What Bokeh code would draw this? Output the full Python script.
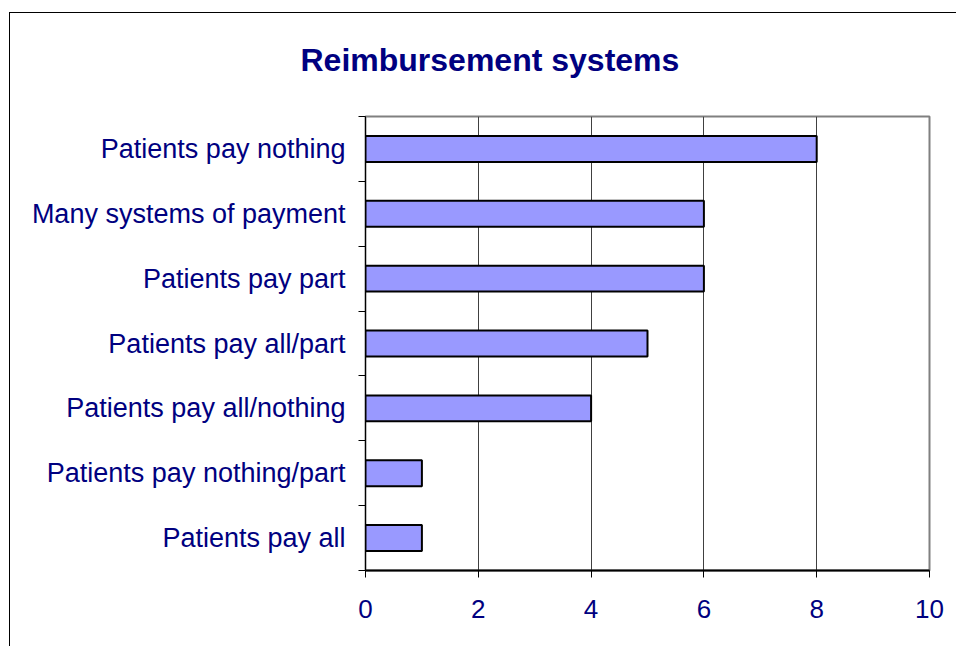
from bokeh.plotting import figure
from bokeh.models import FixedTicker, Range1d, ColumnDataSource
from bokeh.embed import file_html
from bokeh.resources import INLINE

title_text = "Reimbursement systems"
categories = [
    "Patients pay nothing",
    "Many systems of payment",
    "Patients pay part",
    "Patients pay all/part",
    "Patients pay all/nothing",
    "Patients pay nothing/part",
    "Patients pay all",
]
counts = [8, 6, 6, 5, 4, 1, 1]
x_ticks = [0, 2, 4, 6, 8, 10]

n = len(categories)
ypos = [n - 0.5 - i for i in range(n)]
src = ColumnDataSource(dict(y=ypos, v=counts, cat=categories))

FONT = "Liberation Sans"
NAVY = "#000080"

p = figure(width=956, height=646, output_backend="svg", toolbar_location=None,
           x_range=Range1d(0, 10), y_range=Range1d(0, n),
           min_border_left=365, min_border_right=27, min_border_top=115,
           min_border_bottom=76, title=title_text)
p.border_fill_color = None
p.styles = {
    "background": ("linear-gradient(#000,#000) 9px 12px / 100% 1px no-repeat, "
                   "linear-gradient(#000,#000) 9px 12px / 1px 100% no-repeat, #ffffff"),
}

p.title.text_font = FONT
p.title.text_font_size = "32px"
p.title.text_font_style = "bold"
p.title.text_color = NAVY
p.title.align = "left"
p.title.offset = -65
p.title.standoff = 78

p.hbar(y="y", right="v", left=0, height=0.4, source=src,
       fill_color="#9999FF", line_color="#000000", line_width=2)

p.background_fill_color = "#ffffff"
p.outline_line_color = "#808080"
p.outline_line_width = 2

# x axis
p.xaxis.ticker = FixedTicker(ticks=x_ticks)
p.xaxis.axis_line_color = "#000000"
p.xaxis.axis_line_width = 2
p.xaxis.major_tick_out = 7
p.xaxis.major_tick_in = 0
p.xaxis.major_tick_line_color = "#000000"
p.xaxis.minor_tick_line_color = None
p.xaxis.major_label_text_font = FONT
p.xaxis.major_label_text_font_size = "26px"
p.xaxis.major_label_text_color = NAVY
p.xaxis.major_label_standoff = 22

# y axis: labels at category centres, ticks at boundaries
p.yaxis.ticker = FixedTicker(ticks=ypos, minor_ticks=list(range(n + 1)))
p.yaxis.major_label_overrides = {y: c for y, c in zip(ypos, categories)}
p.yaxis.axis_line_color = "#000000"
p.yaxis.axis_line_width = 1
p.yaxis.major_tick_line_color = None
p.yaxis.minor_tick_line_color = "#000000"
p.yaxis.minor_tick_out = 7
p.yaxis.minor_tick_in = 0
p.yaxis.major_label_text_font = FONT
p.yaxis.major_label_text_font_size = "27px"
p.yaxis.major_label_text_color = NAVY
p.yaxis.major_label_standoff = 13

p.xgrid.ticker = FixedTicker(ticks=x_ticks[1:-1])
p.xgrid.grid_line_color = "#404040"
p.xgrid.grid_line_width = 1
p.ygrid.grid_line_color = None

open("out.html", "w").write(file_html(p, INLINE))
